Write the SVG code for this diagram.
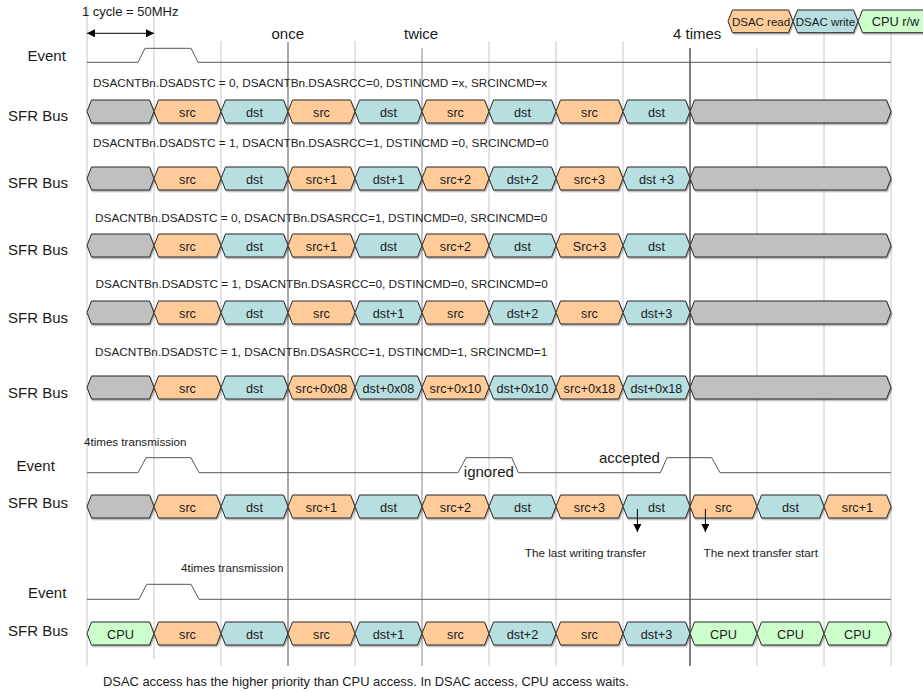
<svg xmlns="http://www.w3.org/2000/svg" width="923" height="691" viewBox="0 0 923 691">
<defs>
<style>
text{font-family:"Liberation Sans",Arial,sans-serif;fill:#1a1a1a}
.lbl{font-size:15px}
.cond{font-size:11.8px;fill:#222}
.node text{font-size:12.7px;text-anchor:middle}
.src{fill:#FFCC99}
.dst{fill:#B7DEE0}
.idle{fill:#C0C0C0}
.cpu{fill:#CCFFCC}
.sh{stroke:#262626;stroke-width:1;filter:url(#ds)}
.g{stroke:#c8c8c8;stroke-width:1}
.wave{fill:none;stroke:#555;stroke-width:1}
.note{font-size:11.7px}
.leg{font-size:11.5px;text-anchor:middle}
.conn{stroke:#000;stroke-width:1;fill:none}
</style>
<filter id="ds" x="-5%" y="-20%" width="115%" height="160%"><feDropShadow dx="1" dy="1.5" stdDeviation="0.6" flood-color="#000" flood-opacity="0.3"/></filter>
<polygon id="seg" points="0,11.5 4.5,0 62.5,0 67,11.5 62.5,23 4.5,23"/>
<polygon id="long" points="0,11.5 4.5,0 196.5,0 201,11.5 196.5,23 4.5,23"/>
<marker id="ah" viewBox="0 0 10 10" refX="10" refY="5" markerWidth="9" markerHeight="8" orient="auto-start-reverse" markerUnits="userSpaceOnUse"><path d="M0,0 L10,5 L0,10 z" fill="#000"/></marker>
</defs>
<rect width="923" height="691" fill="#fff"/>

<g id="grid">
<line class="g" x1="87" y1="5" x2="87" y2="666"/>
<line class="g" x1="154" y1="15" x2="154" y2="659"/>
<line class="g" x1="221" y1="41" x2="221" y2="666"/>
<line x1="288" y1="42" x2="288" y2="666" stroke="#555"/>
<line class="g" x1="355" y1="41" x2="355" y2="666"/>
<line x1="422" y1="48" x2="422" y2="666" stroke="#888"/>
<line class="g" x1="489" y1="41" x2="489" y2="666"/>
<line class="g" x1="556" y1="41" x2="556" y2="666"/>
<line class="g" x1="623" y1="41" x2="623" y2="666"/>
<line x1="690" y1="48" x2="690" y2="666" stroke="#000"/>
<line class="g" x1="757" y1="48" x2="757" y2="666"/>
<line class="g" x1="824" y1="33" x2="824" y2="666"/>
<line class="g" x1="891" y1="33" x2="891" y2="666"/>
</g>

<g id="titles">
<text x="82" y="16" style="font-size:13px">1 cycle = 50MHz</text>
<text class="lbl" x="271.5" y="39">once</text>
<text class="lbl" x="404" y="39">twice</text>
<text class="lbl" x="673" y="39">4 times</text>
</g>

<g id="legend">
<g id="leg-read"><polygon class="sh src" points="728,21.3 732.5,10 788.5,10 793,21.3 788.5,32.7 732.5,32.7"/><text class="leg" x="761" y="26">DSAC read</text></g>
<g id="leg-write"><polygon class="sh dst" points="793,21.3 797.5,10 853.5,10 858,21.3 853.5,32.7 797.5,32.7"/><text class="leg" x="825.5" y="26">DSAC write</text></g>
<g id="leg-cpu"><polygon class="sh cpu" points="858,21.3 862.5,10 925,10 929,21.3 925,32.7 862.5,32.7"/><text class="leg" x="895.5" y="26" style="font-size:12.8px">CPU r/w</text></g>
</g>

<g id="labels">
<text class="lbl" x="27.5" y="61">Event</text>
<text class="lbl" x="8" y="120.7">SFR Bus</text>
<text class="lbl" x="8" y="188.3">SFR Bus</text>
<text class="lbl" x="8" y="255">SFR Bus</text>
<text class="lbl" x="8" y="322.7">SFR Bus</text>
<text class="lbl" x="8" y="397.5">SFR Bus</text>
<text class="lbl" x="16.5" y="470.7">Event</text>
<text class="lbl" x="8" y="508.3">SFR Bus</text>
<text class="lbl" x="28" y="598">Event</text>
<text class="lbl" x="8" y="636">SFR Bus</text>
</g>

<g id="conditions">
<text class="cond" x="93" y="87.3">DSACNTBn.DSADSTC = 0, DSACNTBn.DSASRCC=0, DSTINCMD =x, SRCINCMD=x</text>
<text class="cond" x="93" y="146.7">DSACNTBn.DSADSTC = 1, DSACNTBn.DSASRCC=1, DSTINCMD =0, SRCINCMD=0</text>
<text class="cond" x="95" y="222">DSACNTBn.DSADSTC = 0, DSACNTBn.DSASRCC=1, DSTINCMD=0, SRCINCMD=0</text>
<text class="cond" x="95.5" y="288.3">DSACNTBn.DSADSTC = 1, DSACNTBn.DSASRCC=0, DSTINCMD=0, SRCINCMD=0</text>
<text class="cond" x="95" y="356">DSACNTBn.DSADSTC = 1, DSACNTBn.DSASRCC=1, DSTINCMD=1, SRCINCMD=1</text>
<text x="84" y="446" style="font-size:11.6px">4times transmission</text>
<text x="181" y="571.7" style="font-size:11.6px">4times transmission</text>
<text class="lbl" x="463.8" y="477.3">ignored</text>
<text class="lbl" x="599" y="462.7">accepted</text>
<text class="note" x="524.8" y="556.5">The last writing transfer</text>
<text class="note" x="703.6" y="556.5">The next transfer start</text>
<text x="103" y="686" style="font-size:12.9px">DSAC access has the higher priority than CPU access. In DSAC access, CPU access waits.</text>
</g>

<g id="waves">
<polyline class="wave" points="87,62.3 138,62.3 145,48.3 191,48.3 198,62.3 891,62.3"/>
<polyline class="wave" points="87,472.7 138,472.7 146,457.7 191,457.7 199,472.7 458,472.7 466,457.7 511.7,457.7 518.4,472.7 660.4,472.7 667,457.7 711.7,457.7 720,472.7 891,472.7"/>
<polyline class="wave" points="87,599.3 139,599.3 146.7,584.3 191,584.3 199,599.3 891,599.3"/>
</g>

<g id="row1">
<g id="r1c1" class="node"><use href="#seg" x="87" y="100" class="sh idle"/></g>
<g id="r1c2" class="node"><use href="#seg" x="154" y="100" class="sh src"/><text x="187.5" y="116.7">src</text></g>
<g id="r1c3" class="node"><use href="#seg" x="221" y="100" class="sh dst"/><text x="254.5" y="116.7">dst</text></g>
<g id="r1c4" class="node"><use href="#seg" x="288" y="100" class="sh src"/><text x="321.5" y="116.7">src</text></g>
<g id="r1c5" class="node"><use href="#seg" x="355" y="100" class="sh dst"/><text x="388.5" y="116.7">dst</text></g>
<g id="r1c6" class="node"><use href="#seg" x="422" y="100" class="sh src"/><text x="455.5" y="116.7">src</text></g>
<g id="r1c7" class="node"><use href="#seg" x="489" y="100" class="sh dst"/><text x="522.5" y="116.7">dst</text></g>
<g id="r1c8" class="node"><use href="#seg" x="556" y="100" class="sh src"/><text x="589.5" y="116.7">src</text></g>
<g id="r1c9" class="node"><use href="#seg" x="623" y="100" class="sh dst"/><text x="656.5" y="116.7">dst</text></g>
<g id="r1c10" class="node"><use href="#long" x="690" y="100" class="sh idle"/></g>
</g>

<g id="row2">
<g id="r2c1" class="node"><use href="#seg" x="87" y="167" class="sh idle"/></g>
<g id="r2c2" class="node"><use href="#seg" x="154" y="167" class="sh src"/><text x="187.5" y="183.7">src</text></g>
<g id="r2c3" class="node"><use href="#seg" x="221" y="167" class="sh dst"/><text x="254.5" y="183.7">dst</text></g>
<g id="r2c4" class="node"><use href="#seg" x="288" y="167" class="sh src"/><text x="321.5" y="183.7">src+1</text></g>
<g id="r2c5" class="node"><use href="#seg" x="355" y="167" class="sh dst"/><text x="388.5" y="183.7">dst+1</text></g>
<g id="r2c6" class="node"><use href="#seg" x="422" y="167" class="sh src"/><text x="455.5" y="183.7">src+2</text></g>
<g id="r2c7" class="node"><use href="#seg" x="489" y="167" class="sh dst"/><text x="522.5" y="183.7">dst+2</text></g>
<g id="r2c8" class="node"><use href="#seg" x="556" y="167" class="sh src"/><text x="589.5" y="183.7">src+3</text></g>
<g id="r2c9" class="node"><use href="#seg" x="623" y="167" class="sh dst"/><text x="656.5" y="183.7">dst +3</text></g>
<g id="r2c10" class="node"><use href="#long" x="690" y="167" class="sh idle"/></g>
</g>

<g id="row3">
<g id="r3c1" class="node"><use href="#seg" x="87" y="234" class="sh idle"/></g>
<g id="r3c2" class="node"><use href="#seg" x="154" y="234" class="sh src"/><text x="187.5" y="250.7">src</text></g>
<g id="r3c3" class="node"><use href="#seg" x="221" y="234" class="sh dst"/><text x="254.5" y="250.7">dst</text></g>
<g id="r3c4" class="node"><use href="#seg" x="288" y="234" class="sh src"/><text x="321.5" y="250.7">src+1</text></g>
<g id="r3c5" class="node"><use href="#seg" x="355" y="234" class="sh dst"/><text x="388.5" y="250.7">dst</text></g>
<g id="r3c6" class="node"><use href="#seg" x="422" y="234" class="sh src"/><text x="455.5" y="250.7">src+2</text></g>
<g id="r3c7" class="node"><use href="#seg" x="489" y="234" class="sh dst"/><text x="522.5" y="250.7">dst</text></g>
<g id="r3c8" class="node"><use href="#seg" x="556" y="234" class="sh src"/><text x="589.5" y="250.7">Src+3</text></g>
<g id="r3c9" class="node"><use href="#seg" x="623" y="234" class="sh dst"/><text x="656.5" y="250.7">dst</text></g>
<g id="r3c10" class="node"><use href="#long" x="690" y="234" class="sh idle"/></g>
</g>

<g id="row4">
<g id="r4c1" class="node"><use href="#seg" x="87" y="301" class="sh idle"/></g>
<g id="r4c2" class="node"><use href="#seg" x="154" y="301" class="sh src"/><text x="187.5" y="317.7">src</text></g>
<g id="r4c3" class="node"><use href="#seg" x="221" y="301" class="sh dst"/><text x="254.5" y="317.7">dst</text></g>
<g id="r4c4" class="node"><use href="#seg" x="288" y="301" class="sh src"/><text x="321.5" y="317.7">src</text></g>
<g id="r4c5" class="node"><use href="#seg" x="355" y="301" class="sh dst"/><text x="388.5" y="317.7">dst+1</text></g>
<g id="r4c6" class="node"><use href="#seg" x="422" y="301" class="sh src"/><text x="455.5" y="317.7">src</text></g>
<g id="r4c7" class="node"><use href="#seg" x="489" y="301" class="sh dst"/><text x="522.5" y="317.7">dst+2</text></g>
<g id="r4c8" class="node"><use href="#seg" x="556" y="301" class="sh src"/><text x="589.5" y="317.7">src</text></g>
<g id="r4c9" class="node"><use href="#seg" x="623" y="301" class="sh dst"/><text x="656.5" y="317.7">dst+3</text></g>
<g id="r4c10" class="node"><use href="#long" x="690" y="301" class="sh idle"/></g>
</g>

<g id="row5">
<g id="r5c1" class="node"><use href="#seg" x="87" y="376" class="sh idle"/></g>
<g id="r5c2" class="node"><use href="#seg" x="154" y="376" class="sh src"/><text x="187.5" y="392.7">src</text></g>
<g id="r5c3" class="node"><use href="#seg" x="221" y="376" class="sh dst"/><text x="254.5" y="392.7">dst</text></g>
<g id="r5c4" class="node"><use href="#seg" x="288" y="376" class="sh src"/><text x="321.5" y="392.7">src+0x08</text></g>
<g id="r5c5" class="node"><use href="#seg" x="355" y="376" class="sh dst"/><text x="388.5" y="392.7">dst+0x08</text></g>
<g id="r5c6" class="node"><use href="#seg" x="422" y="376" class="sh src"/><text x="455.5" y="392.7">src+0x10</text></g>
<g id="r5c7" class="node"><use href="#seg" x="489" y="376" class="sh dst"/><text x="522.5" y="392.7">dst+0x10</text></g>
<g id="r5c8" class="node"><use href="#seg" x="556" y="376" class="sh src"/><text x="589.5" y="392.7">src+0x18</text></g>
<g id="r5c9" class="node"><use href="#seg" x="623" y="376" class="sh dst"/><text x="656.5" y="392.7">dst+0x18</text></g>
<g id="r5c10" class="node"><use href="#long" x="690" y="376" class="sh idle"/></g>
</g>

<g id="row6">
<g id="r6c1" class="node"><use href="#seg" x="87" y="495" class="sh idle"/></g>
<g id="r6c2" class="node"><use href="#seg" x="154" y="495" class="sh src"/><text x="187.5" y="511.7">src</text></g>
<g id="r6c3" class="node"><use href="#seg" x="221" y="495" class="sh dst"/><text x="254.5" y="511.7">dst</text></g>
<g id="r6c4" class="node"><use href="#seg" x="288" y="495" class="sh src"/><text x="321.5" y="511.7">src+1</text></g>
<g id="r6c5" class="node"><use href="#seg" x="355" y="495" class="sh dst"/><text x="388.5" y="511.7">dst</text></g>
<g id="r6c6" class="node"><use href="#seg" x="422" y="495" class="sh src"/><text x="455.5" y="511.7">src+2</text></g>
<g id="r6c7" class="node"><use href="#seg" x="489" y="495" class="sh dst"/><text x="522.5" y="511.7">dst</text></g>
<g id="r6c8" class="node"><use href="#seg" x="556" y="495" class="sh src"/><text x="589.5" y="511.7">src+3</text></g>
<g id="r6c9" class="node"><use href="#seg" x="623" y="495" class="sh dst"/><text x="656.5" y="511.7">dst</text></g>
<g id="r6c10" class="node"><use href="#seg" x="690" y="495" class="sh src"/><text x="723.5" y="511.7">src</text></g>
<g id="r6c11" class="node"><use href="#seg" x="757" y="495" class="sh dst"/><text x="790.5" y="511.7">dst</text></g>
<g id="r6c12" class="node"><use href="#seg" x="824" y="495" class="sh src"/><text x="857.5" y="511.7">src+1</text></g>
</g>

<g id="row7">
<g id="r7c1" class="node"><use href="#seg" x="87" y="622" class="sh cpu"/><text x="120.5" y="638.7">CPU</text></g>
<g id="r7c2" class="node"><use href="#seg" x="154" y="622" class="sh src"/><text x="187.5" y="638.7">src</text></g>
<g id="r7c3" class="node"><use href="#seg" x="221" y="622" class="sh dst"/><text x="254.5" y="638.7">dst</text></g>
<g id="r7c4" class="node"><use href="#seg" x="288" y="622" class="sh src"/><text x="321.5" y="638.7">src</text></g>
<g id="r7c5" class="node"><use href="#seg" x="355" y="622" class="sh dst"/><text x="388.5" y="638.7">dst+1</text></g>
<g id="r7c6" class="node"><use href="#seg" x="422" y="622" class="sh src"/><text x="455.5" y="638.7">src</text></g>
<g id="r7c7" class="node"><use href="#seg" x="489" y="622" class="sh dst"/><text x="522.5" y="638.7">dst+2</text></g>
<g id="r7c8" class="node"><use href="#seg" x="556" y="622" class="sh src"/><text x="589.5" y="638.7">src</text></g>
<g id="r7c9" class="node"><use href="#seg" x="623" y="622" class="sh dst"/><text x="656.5" y="638.7">dst+3</text></g>
<g id="r7c10" class="node"><use href="#seg" x="690" y="622" class="sh cpu"/><text x="723.5" y="638.7">CPU</text></g>
<g id="r7c11" class="node"><use href="#seg" x="757" y="622" class="sh cpu"/><text x="790.5" y="638.7">CPU</text></g>
<g id="r7c12" class="node"><use href="#seg" x="824" y="622" class="sh cpu"/><text x="857.5" y="638.7">CPU</text></g>
</g>

<g id="connectors">
<line class="conn" x1="87" y1="33.3" x2="154" y2="33.3" marker-start="url(#ah)" marker-end="url(#ah)"/>
<line class="conn" x1="637.4" y1="509" x2="637.4" y2="532" marker-end="url(#ah)"/>
<line class="conn" x1="705.4" y1="509" x2="705.4" y2="532" marker-end="url(#ah)"/>
</g>
</svg>
